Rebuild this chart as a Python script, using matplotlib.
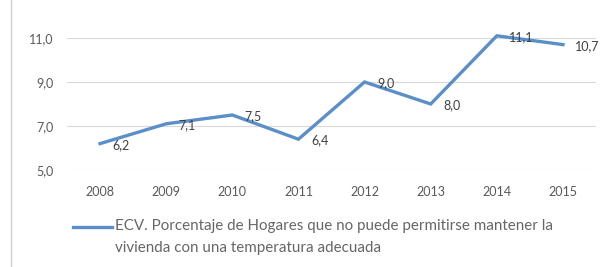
import matplotlib.pyplot as plt
from matplotlib.lines import Line2D

years = ["2008", "2009", "2010", "2011", "2012", "2013", "2014", "2015"]
values = [6.2, 7.1, 7.5, 6.4, 9.0, 8.0, 11.1, 10.7]
yticks = [5.0, 7.0, 9.0, 11.0]
serie = "ECV. Porcentaje de Hogares que no puede permitirse mantener la\nvivienda con una temperatura adecuada"

plt.rcParams["font.family"] = ["Lato", "DejaVu Sans"]
gray = "#595959"
blue = "#5b8fc9"

fig = plt.figure(figsize=(6.09, 2.67), dpi=100)
ax = fig.add_axes([67 / 609, 1 - 170 / 267, 529 / 609, 132 / 267])

x = list(range(len(years)))
ax.plot(x, values, color=blue, lw=2.4, clip_on=False, solid_joinstyle="miter")
for xi, v in zip(x, values):
    ax.annotate(f"{v:.1f}".replace(".", ","), (xi, v), xytext=(9, -1),
                textcoords="offset points", ha="left", va="center",
                fontsize=9, color="#404040", annotation_clip=False)

ax.set_xlim(-0.5, len(years) - 0.5)
ax.set_ylim(5, 11)
ax.set_yticks(yticks)
ax.set_yticklabels([f"{t:.1f}".replace(".", ",") for t in yticks])
ax.set_xticks(x)
ax.set_xticklabels(years)
ax.grid(axis="y", color="#d9d9d9", lw=0.8)
ax.set_axisbelow(True)
for s in ax.spines.values():
    s.set_visible(False)
ax.tick_params(length=0, labelsize=9, labelcolor=gray, pad=11.5)
ax.tick_params(axis="y", pad=9.5)

# chart border on the left
fig.add_artist(Line2D([11 / 609, 11 / 609], [0, 1], color="#d0d0d0", lw=1))

# legend
fig.add_artist(Line2D([73 / 609, 112 / 609], [1 - 227 / 267] * 2, color=blue, lw=2.4))
fig.text(115 / 609, 1 - 237 / 267, serie, fontsize=10.9, color="#666666",
         va="center", ha="left", linespacing=1.65)

fig.savefig("out.png", dpi=100)
